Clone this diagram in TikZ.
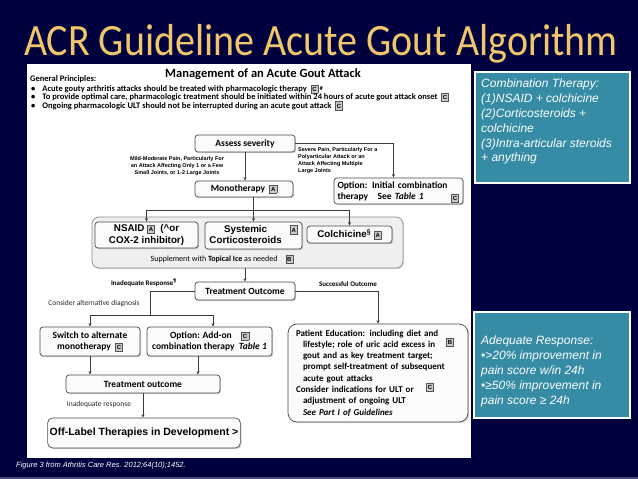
\documentclass[tikz,border=0pt]{standalone}
\usepackage{fontspec}
\setmainfont{Carlito}
\newfontfamily\arial{Liberation Sans}
\usetikzlibrary{arrows.meta, shadows, calc}
\definecolor{navybg}{HTML}{00003E}
\definecolor{navyband}{HTML}{4A4A7A}
\definecolor{titlegold}{HTML}{F0C66C}
\definecolor{tealpanel}{HTML}{368BA5}
\definecolor{boxedge}{HTML}{4A4A4A}
\definecolor{boxfill}{HTML}{FBFBFB}
\definecolor{groupfill}{HTML}{EFEFEF}
\definecolor{groupedge}{HTML}{8C8C8C}
\definecolor{gradefill}{HTML}{C9C9C9}
\definecolor{gradeedge}{HTML}{555555}
\definecolor{linkgray}{HTML}{3C3C3C}

\newcommand{\fs}[2]{\fontsize{#1}{#2}\selectfont}
\newcommand{\grade}[1]{{\setlength{\fboxsep}{0.6pt}\setlength{\fboxrule}{0.5pt}\fcolorbox{gradeedge}{gradefill}{\makebox[5.5pt]{\rule[-1pt]{0pt}{6.5pt}\arial\bfseries\fs{6}{6}#1}}}}

\tikzset{
  flowbox/.style={draw=boxedge, fill=boxfill, line width=0.7pt, rounded corners=3pt, inner sep=2pt, align=center,
    font=\bfseries\fs{9.5}{11}, drop shadow={shadow xshift=1.2pt, shadow yshift=-1.2pt, opacity=0.35}},
  gradebox/.style={draw=gradeedge, fill=gradefill, line width=0.5pt, inner sep=0pt, minimum width=7pt,
    minimum height=8pt, font=\arial\bfseries\fs{6}{6}},
  flow/.style={draw=linkgray, line width=0.6pt, -{Stealth[length=3.5pt, width=3pt]}},
  link/.style={draw=linkgray, line width=0.6pt},
  note/.style={font=\fs{7.5}{9}, text=black!85, inner sep=0pt},
  smallnote/.style={font=\arial\bfseries\fs{5.5}{7.2}, inner sep=0pt},
  rulenote/.style={anchor=base west, font=\bfseries\fs{8.5}{9}, inner sep=0pt},
  drugbox/.style={flowbox, font=\arial\bfseries\fs{9.8}{11.5}},
  tealbox/.style={draw=white, fill=tealpanel, line width=2.5pt},
  tealtext/.style={font=\arial\itshape\fs{12}{14.8}, text=white, align=left, inner sep=0pt}
}

\begin{document}
\begin{tikzpicture}[x=1pt, y=-1pt]
  \useasboundingbox (0,0) rectangle (638,479);
  % Slide background
  \fill[navybg] (0,0) rectangle (638,479);
  \fill[navyband] (0,476.5) rectangle (638,479);
  % Title
  \node[anchor=base, text=titlegold, font=\fs{40}{40}, inner sep=0pt] (title) at (321,56) {\scalebox{1}[1.12]{ACR Guideline Acute Gout Algorithm}};
  % White figure panel
  \fill[white] (27,64) rectangle (471,458);

  % Header and general principles
  \node[font=\bfseries\fs{12.5}{14}, inner sep=0pt] (header) at (263,74) {Management of an Acute Gout Attack};
  \node[rulenote] (principles) at (30,81.5) {General Principles:};
  \node[rulenote] (rule1) at (31,91.5)
    {\textbullet\hspace{7pt}Acute gouty arthritis attacks should be treated with pharmacologic therapy\ \ \grade{C}\,\raisebox{1.5pt}{\fs{6}{6}\#}};
  \node[rulenote] (rule2) at (31,99.5)
    {\textbullet\hspace{7pt}To provide optimal care, pharmacologic treatment should be initiated within 24 hours of acute gout attack onset\ \ \grade{C}};
  \node[rulenote] (rule3) at (31,108)
    {\textbullet\hspace{7pt}Ongoing pharmacologic ULT should not be interrupted during an acute gout attack\ \ \grade{C}};

  % Severity split
  \node[flowbox, minimum width=100pt, minimum height=17pt] (assess) at (245,143.5) {Assess severity};
  \node[smallnote, align=center] (mildlbl) at (177,166) {Mild-Moderate Pain, Particularly For\\an Attack Affecting Only 1 or a Few\\Small Joints, or 1-2 Large Joints};
  \node[smallnote, align=left, anchor=north west] (severelbl) at (298,147) {Severe Pain, Particularly For a\\Polyarticular Attack or an\\Attack Affecting Multiple\\Large Joints};
  \node[flowbox, minimum width=98pt, minimum height=16pt] (mono) at (244,189) {Monotherapy\ \ \grade{A}};
  \node[flowbox, minimum width=129pt, minimum height=26pt, inner sep=3pt, text width=122pt, align=left] (optinit) at (398.5,191)
    {Option: Initial combination\\therapy\quad See \textit{Table 1}};
  \node[gradebox] (optgrade) at (455,198) {C};
  \draw[flow] (assess.south) -- (assess.south |- mono.north);
  \draw[flow] (assess.east) -| ([xshift=-5pt]optinit.north);

  % Monotherapy choices
  \node[draw=groupedge, fill=groupfill, line width=0.7pt, rounded corners=7pt, minimum width=311pt, minimum height=51pt,
    drop shadow={shadow xshift=1.2pt, shadow yshift=-1.2pt, opacity=0.3}] (drugs) at (247.5,242.5) {};
  \node[drugbox, minimum width=103pt, minimum height=26pt] (nsaid) at (146.5,235) {NSAID \grade{A}\ \ (\textasciicircum or\\COX-2 inhibitor)};
  \node[drugbox, minimum width=97pt, minimum height=27pt] (steroid) at (253.5,235.5)
    {\begin{tabular}{@{}c@{}}Systemic\\Corticosteroids\end{tabular}\hspace{8pt}\raisebox{6pt}{\grade{A}}};
  \node[drugbox, minimum width=85pt, minimum height=17pt] (colch) at (349.5,234.5) {Colchicine\textsuperscript{\S}\ \grade{A}};
  \node[font=\fs{8}{9}, inner sep=0pt] (topical) at (222,259.5) {Supplement with \textbf{Topical Ice} as needed\quad\grade{B}};
  \coordinate (split) at (253.5,210);
  \draw[link] (mono.south -| split) -- (split);
  \draw[flow] (split) -- (steroid.north);
  \draw[flow] (split) -| (nsaid.north);
  \draw[flow] (split) -| (colch.north);

  % Treatment outcome
  \node[flowbox, minimum width=100pt, minimum height=18pt] (outcome) at (245,291) {Treatment Outcome};
  \draw[flow] (outcome.north |- drugs.south) -- (outcome.north);
  \node[font=\bfseries\fs{7}{8}, inner sep=0pt] (inadlbl) at (144,283) {Inadequate Response\textsuperscript{\P}};
  \node[note] (altdx) at (94,304) {Consider alternative diagnosis};
  \node[font=\bfseries\fs{7}{8}, inner sep=0pt] (succlbl) at (348,284) {Successful Outcome};

  % Inadequate response branch
  \coordinate (fork) at (150,315);
  \node[flowbox, minimum width=100pt, minimum height=29pt] (switch) at (90,341.5) {Switch to alternate\\monotherapy\ \ \grade{C}};
  \node[flowbox, minimum width=125pt, minimum height=29pt] (addon) at (209.5,341.5) {Option: Add-on\quad\grade{C}\\combination therapy\ \ \textit{Table 1}};
  \draw[link] (outcome.west) -| (fork);
  \draw[flow] (fork) -| (switch.north);
  \draw[flow] (fork) -| ([xshift=3.5pt]addon.north);
  \node[flowbox, minimum width=154pt, minimum height=18pt] (outcome2) at (143,384) {Treatment outcome};
  \draw[flow] (switch.south) -- (switch.south |- outcome2.north);
  \draw[flow] ([xshift=-11.5pt]addon.south) -- ([xshift=-11.5pt]addon.south |- outcome2.north);
  \node[note] (inadlbl2) at (99,404) {Inadequate response};
  \node[flowbox, font=\arial\bfseries\fs{10.5}{12}, minimum width=188pt, minimum height=30pt, rounded corners=5pt] (offlabel) at (144,433)
    {Off-Label Therapies in Development >};
  \draw[flow] (outcome2.south) -- (outcome2.south |- offlabel.north);

  % Successful outcome branch
  \node[flowbox, rounded corners=9pt, minimum width=180pt, minimum height=98pt, text width=164pt, align=left, font=\bfseries\fs{9}{11.3}] (educ) at (378,373)
    {Patient Education: including diet and\\
     \hspace*{7pt}lifestyle; role of uric acid excess in\\
     \hspace*{7pt}gout and as key treatment target;\\
     \hspace*{7pt}prompt self-treatment of subsequent\\
     \hspace*{7pt}acute gout attacks\\
     Consider indications for ULT or\\
     \hspace*{7pt}adjustment of ongoing ULT\\
     \hspace*{7pt}\textit{See Part I of Guidelines}};
  \node[gradebox] (edugradeB) at (450,342) {B};
  \node[gradebox] (edugradeC) at (430,387) {C};
  \draw[flow] (outcome.east) -| (educ.north);

  % Source line
  \node[anchor=base west, font=\arial\itshape\fs{7.5}{9}, text=white, inner sep=0pt] (figref) at (16,467) {Figure 3 from Athritis Care Res. 2012;64(10);1452.};

  % Side notes
  \node[tealbox, minimum width=155pt, minimum height=111pt] (combobox) at (552.5,127.5) {};
  \node[tealtext, anchor=north west] (combotext) at (481,79)
    {Combination Therapy:\\(1)NSAID + colchicine\\(2)Corticosteroids +\\colchicine\\(3)Intra-articular steroids\\+ anything};
  \node[tealbox, minimum width=156pt, minimum height=106pt] (adeqbox) at (552,365) {};
  \node[tealtext, anchor=north west] (adeqtext) at (481,336)
    {Adequate Response:\\\textbullet>20\% improvement in\\pain score w/in 24h\\\textbullet≥50\% improvement in\\pain score ≥ 24h};
\end{tikzpicture}
\end{document}
